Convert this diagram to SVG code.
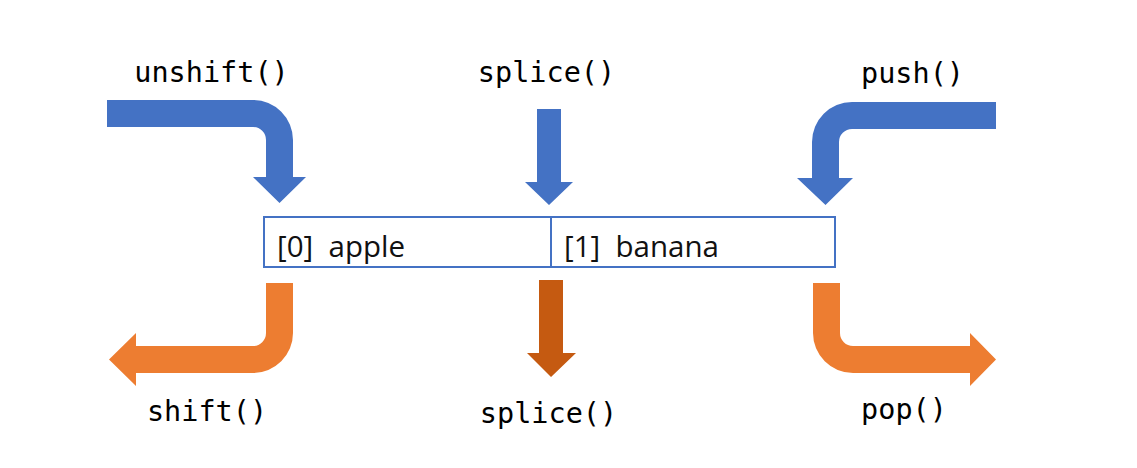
<svg xmlns="http://www.w3.org/2000/svg" width="1137" height="468" viewBox="0 0 1137 468">
<style>
.lbl{font-family:"DejaVu Sans Mono","Liberation Mono",monospace;font-size:28.5px;fill:#000;text-anchor:middle}
.cell{font-family:"Open Sans","Noto Sans",sans-serif;font-size:29.5px;fill:#111;white-space:pre}
.in{fill:#4472C4}
.out{fill:#ED7D31}
.outd{fill:#C55A11}
.box{fill:#fff;stroke:#4472C4;stroke-width:2}
</style>
<rect width="1137" height="468" fill="#fff"/>
<g id="array">
<rect class="box" x="264" y="217" width="571" height="50"/>
<line x1="551" y1="217" x2="551" y2="267" stroke="#4472C4" stroke-width="2"/>
<text class="cell" x="277" y="257" xml:space="preserve">[0]  apple</text>
<text class="cell" x="564" y="257" xml:space="preserve">[1]  banana</text>
</g>
<g id="connectors">
<path id="unshift-arrow" class="in" d="M107,100 H253 A40,40 0 0 1 293,140 V177 H306 L279.5,203 L253,177 H266 V140 A13,13 0 0 0 253,127 H107 Z"/>
<path id="splice-in-arrow" class="in" d="M537,109 H561 V182 H573 L549,205 L525,182 H537 Z"/>
<path id="push-arrow" class="in" d="M996,102 H852 A40,40 0 0 0 812,142 V178 H797 L825.5,205 L853,178 H839 V142 A13,13 0 0 1 852,129 H996 Z"/>
<path id="shift-arrow" class="out" d="M266,283 H293 V333 A40,40 0 0 1 253,373 H136 V386 L109,359.5 L136,333 V346 H253 A13,13 0 0 0 266,333 Z"/>
<path id="splice-out-arrow" class="outd" d="M539,280 H563 V353 H576 L551,377 L527,353 H539 Z"/>
<path id="pop-arrow" class="out" d="M813,283 H840 V333 A13,13 0 0 0 853,346 H970 V333 L996,359.5 L970,386 V373 H853 A40,40 0 0 1 813,333 Z"/>
</g>
<g id="unshift"><text class="lbl" x="211.5" y="82">unshift()</text></g>
<g id="splice-in"><text class="lbl" x="546.5" y="82">splice()</text></g>
<g id="push"><text class="lbl" x="912.5" y="83">push()</text></g>
<g id="shift"><text class="lbl" x="207" y="421">shift()</text></g>
<g id="splice-out"><text class="lbl" x="548.5" y="423">splice()</text></g>
<g id="pop"><text class="lbl" x="904" y="419">pop()</text></g>
</svg>
